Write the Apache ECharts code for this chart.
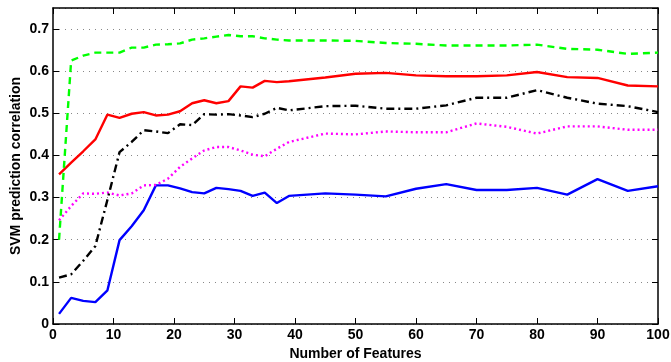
<!DOCTYPE html>
<html>
<head>
<meta charset="utf-8">
<script src="https://cdn.jsdelivr.net/npm/echarts@6/dist/echarts.min.js"></script>
<style>
  html, body { margin: 0; padding: 0; background: #fff; }
  #chart { width: 671px; height: 362px; }
</style>
</head>
<body>
<div id="chart"></div>
<script>
// number of features (x positions)
const features = [1, 3, 5, 7, 9, 11, 13, 15, 17, 19, 21, 23, 25, 27, 29, 31, 33, 35, 37, 39,
  45, 50, 55, 60, 65, 70, 75, 80, 85, 90, 95, 100];

const blueVals = [0.024, 0.062, 0.055, 0.052, 0.080, 0.199, 0.232, 0.270, 0.329, 0.329, 0.322, 0.313, 0.310, 0.323, 0.320, 0.316, 0.304, 0.312, 0.287, 0.304,
  0.310, 0.307, 0.303, 0.321, 0.332, 0.318, 0.318, 0.323, 0.307, 0.344, 0.316, 0.327];
const redVals = [0.355, 0.383, 0.410, 0.438, 0.497, 0.489, 0.499, 0.503, 0.495, 0.497, 0.505, 0.524, 0.531, 0.524, 0.529, 0.564, 0.561, 0.577, 0.574, 0.576,
  0.585, 0.594, 0.596, 0.590, 0.588, 0.588, 0.590, 0.598, 0.586, 0.584, 0.566, 0.564];
const greenVals = [0.200, 0.625, 0.637, 0.644, 0.644, 0.644, 0.656, 0.656, 0.663, 0.664, 0.666, 0.675, 0.678, 0.682, 0.686, 0.683, 0.683, 0.678, 0.675, 0.673,
  0.673, 0.672, 0.667, 0.665, 0.661, 0.661, 0.661, 0.663, 0.653, 0.651, 0.641, 0.644];
const blackVals = [0.110, 0.118, 0.150, 0.185, 0.295, 0.408, 0.432, 0.460, 0.457, 0.453, 0.474, 0.472, 0.498, 0.497, 0.498, 0.495, 0.491, 0.499, 0.513, 0.507,
  0.517, 0.518, 0.511, 0.511, 0.519, 0.537, 0.537, 0.555, 0.537, 0.523, 0.517, 0.503];
const magentaVals = [0.246, 0.280, 0.310, 0.309, 0.312, 0.305, 0.310, 0.329, 0.330, 0.345, 0.373, 0.393, 0.412, 0.420, 0.420, 0.412, 0.402, 0.398, 0.416, 0.432,
  0.452, 0.450, 0.457, 0.455, 0.455, 0.476, 0.468, 0.452, 0.469, 0.469, 0.461, 0.461];

const font = 'Liberation Sans, Arial, sans-serif';

function pairs(vals) {
  return features.map((x, i) => [x, vals[i]]);
}

function line(vals, color, type) {
  return {
    type: 'line',
    data: pairs(vals),
    symbol: 'none',
    xAxisIndex: 0,
    yAxisIndex: 0,
    lineStyle: { color: color, width: 2.4, type: type },
    itemStyle: { color: color },
    animation: false
  };
}

const boxLine = { show: true, onZero: false, lineStyle: { color: '#000', width: 1.5 } };
const boxTick = { show: true, inside: true, length: 6, lineStyle: { color: '#000' } };
const textStyle = { fontFamily: font, fontWeight: 'bold', fontSize: 14, color: '#000' };

var myChart = echarts.init(document.getElementById('chart'));
let option = {
  backgroundColor: '#fff',
  grid: { left: 53, right: 13, top: 8, bottom: 38, outerBoundsMode: 'none', containLabel: false },
  xAxis: [
    {
      type: 'value', min: 0, max: 100, interval: 10,
      name: 'Number of Features', nameLocation: 'middle', nameGap: 21,
      nameTextStyle: textStyle,
      axisLine: boxLine,
      axisTick: boxTick,
      axisLabel: Object.assign({ margin: 4 }, textStyle),
      splitLine: { show: false }
    },
    {
      type: 'value', min: 0, max: 100, interval: 10, position: 'top',
      axisLine: boxLine,
      axisTick: boxTick,
      axisLabel: { show: false },
      splitLine: { show: false }
    }
  ],
  yAxis: [
    {
      type: 'value', min: 0, max: 0.75, interval: 0.1,
      name: 'SVM prediction correlation', nameLocation: 'middle', nameGap: 30,
      nameMoveOverlap: false,
      nameTextStyle: textStyle,
      axisLine: boxLine,
      axisTick: boxTick,
      axisLabel: Object.assign({ margin: 4, showMaxLabel: false }, textStyle),
      splitLine: { show: true, lineStyle: { color: '#888', width: 1, type: [1, 5] } }
    },
    {
      type: 'value', min: 0, max: 0.75, interval: 0.1, position: 'right',
      axisLine: boxLine,
      axisTick: boxTick,
      axisLabel: { show: false },
      splitLine: { show: false }
    }
  ],
  series: [
    line(blueVals, '#0000ff', 'solid'),
    line(magentaVals, '#ff00ff', [2, 3]),
    line(blackVals, '#000000', [8, 4, 2, 4]),
    line(redVals, '#ff0000', 'solid'),
    line(greenVals, '#00ff00', [7, 5])
  ]
};
myChart.setOption(option);
</script>
</body>
</html>
